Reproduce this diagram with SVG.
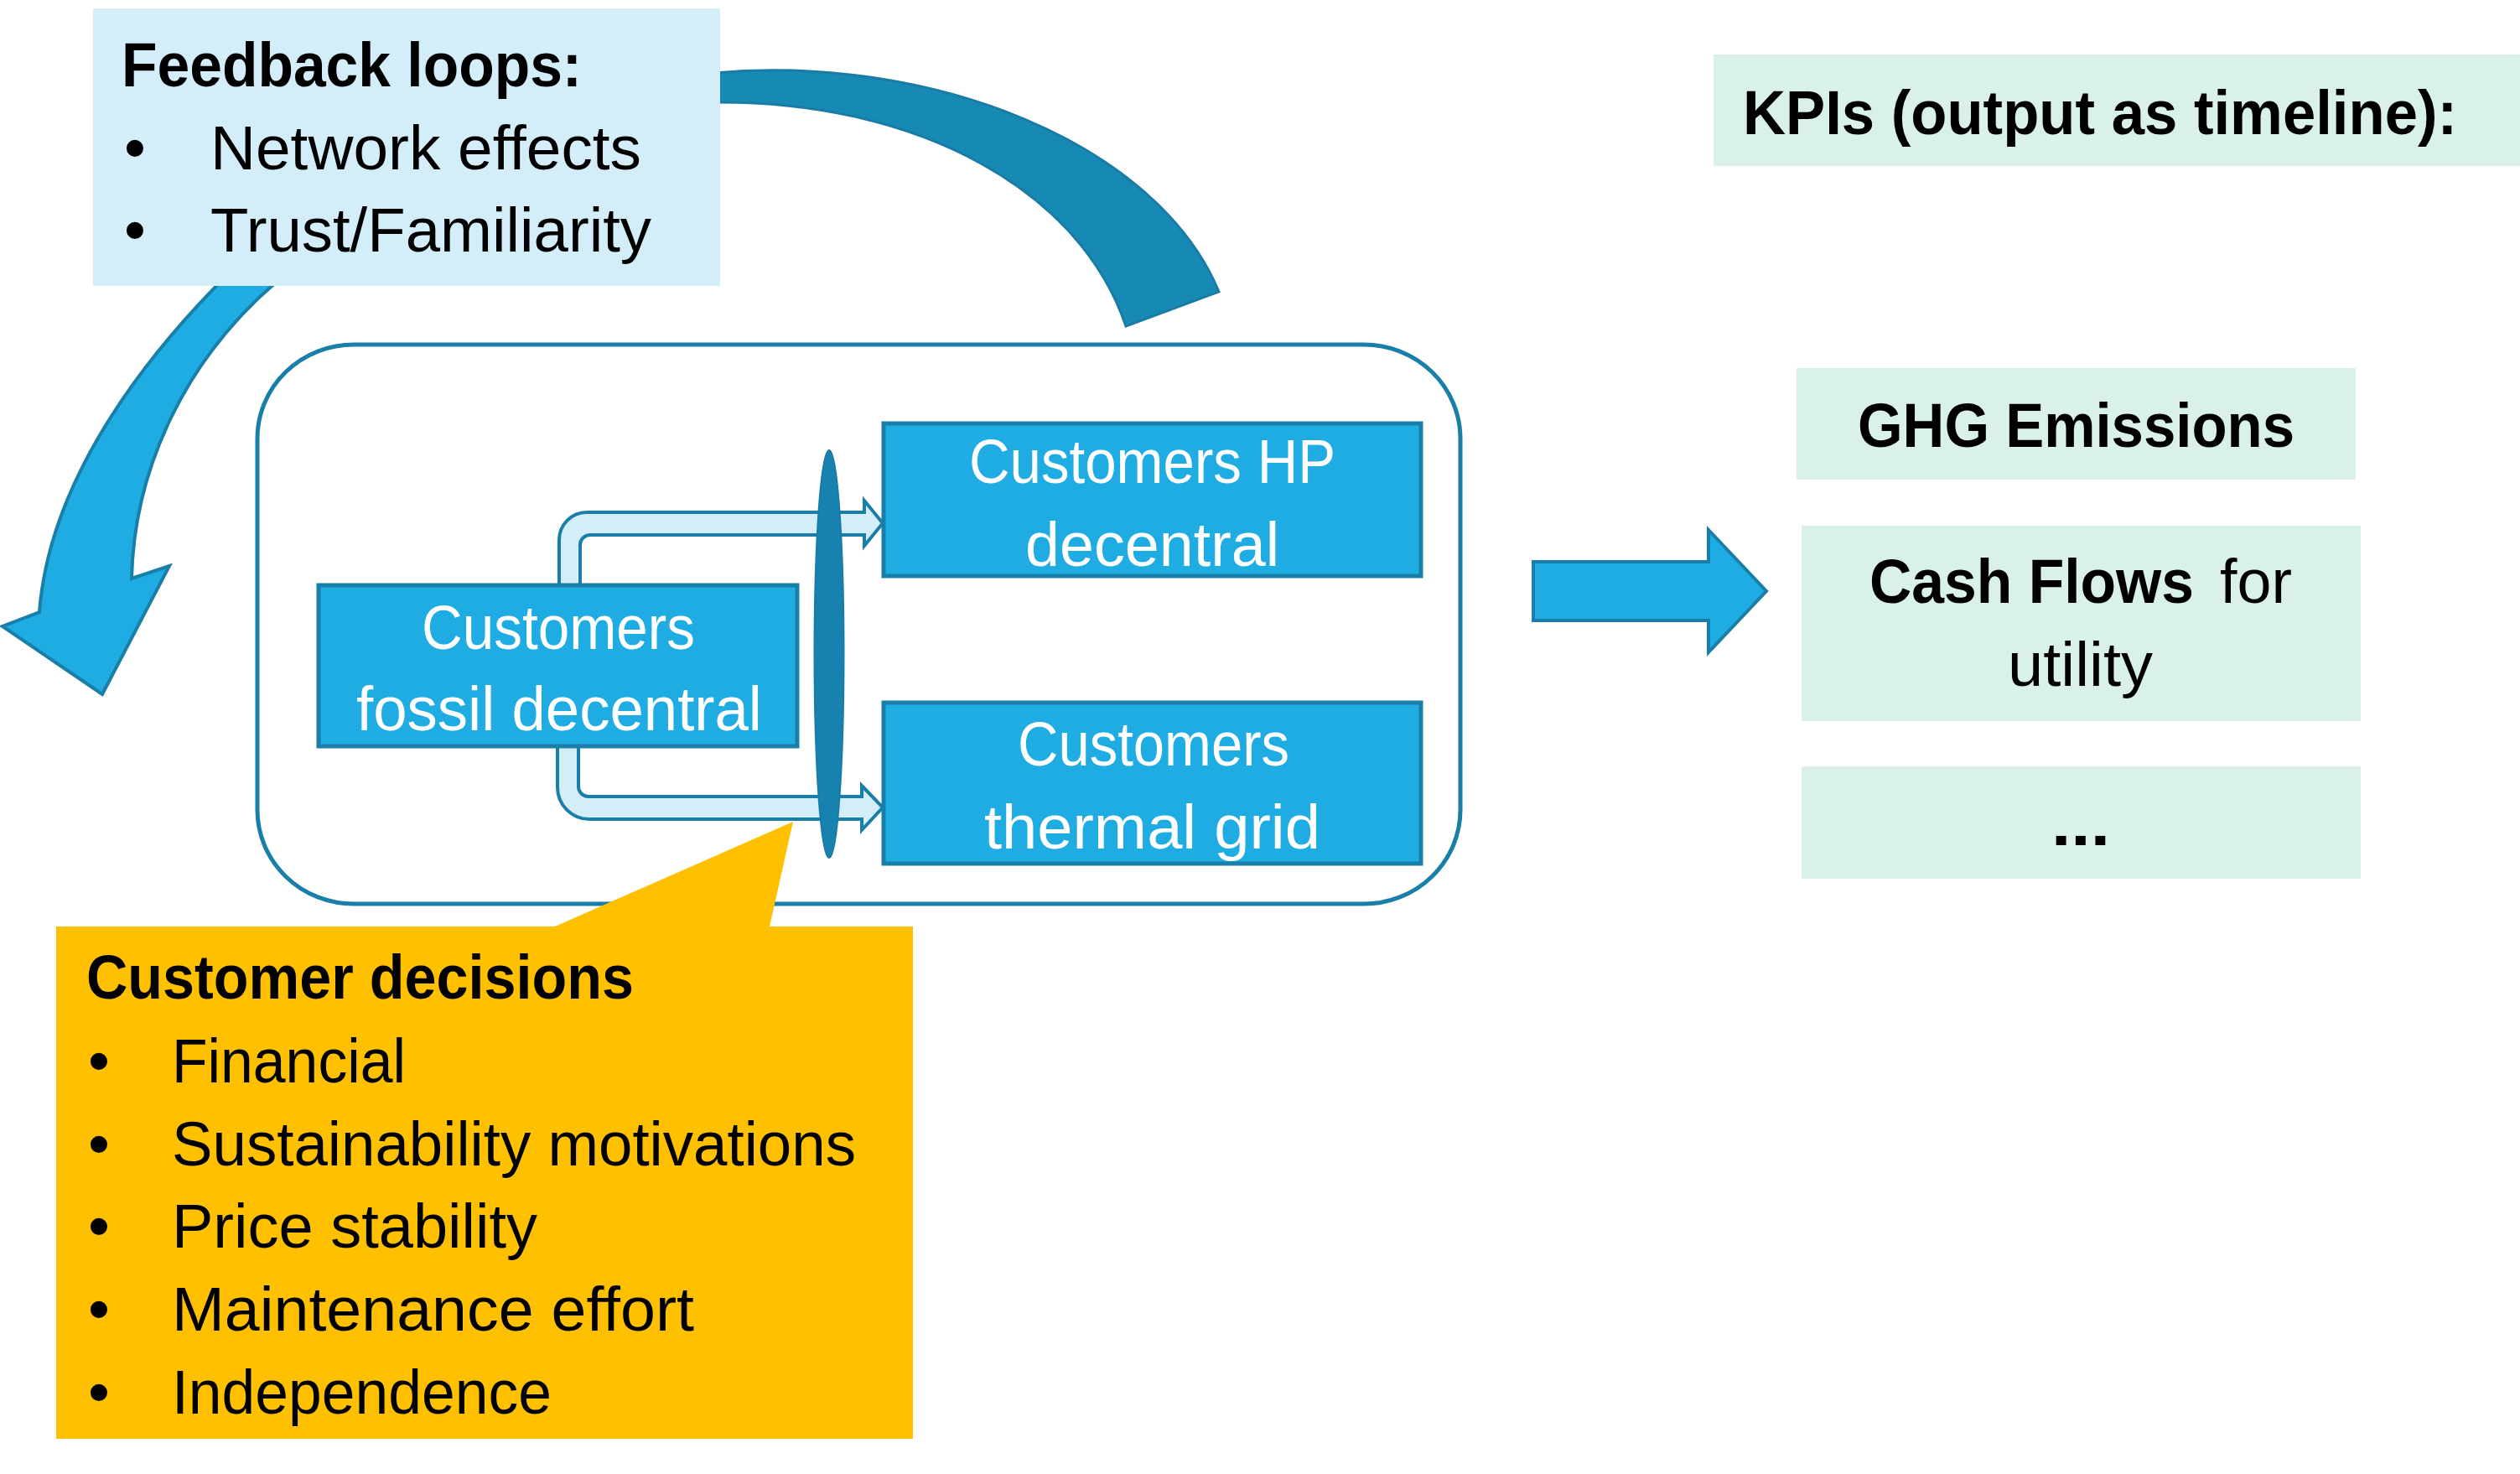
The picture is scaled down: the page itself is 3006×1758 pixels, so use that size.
<svg xmlns="http://www.w3.org/2000/svg" width="3006" height="1758" viewBox="0 0 3006 1758">
<style>
text{font-family:"Liberation Sans",Arial,sans-serif;font-size:74px;fill:#000}
.b{font-weight:bold}
.w{fill:#fff}
.node{fill:#1EACE2;stroke:#1A7FA8;stroke-width:5}
.light{fill:#D4EEF9}
.mint{fill:#DAF0EA}
.bent{fill:#D4EEF9;stroke:#1A7FA8;stroke-width:4;stroke-linejoin:miter}
</style>
<rect width="3006" height="1758" fill="#fff"/>
<g id="connectors">
  <path id="loop-left" d="M263,336 C190,410 60,560 47,730 L3,747 L122,828 L202,675 L157,690 C160,560 220,430 330,336 Z" fill="#1EACE2" stroke="#1A7FA8" stroke-width="4" stroke-linejoin="miter"/>
  <path id="loop-top" d="M852,87 C1110,64 1380,170 1454,348 L1343,389 C1290,230 1100,120 852,122 Z" fill="#1789B5" stroke="#1A7CA5" stroke-width="3"/>
  <path id="to-hp" class="bent" d="M667,700 L667,644 A33,33 0 0 1 700,611 L1031,611 L1031,597 L1053,624 L1031,651 L1031,638 L704,638 A12,12 0 0 0 692,650 L692,700 Z"/>
  <path id="to-grid" class="bent" d="M665,888 L665,939 A38,38 0 0 0 703,977 L1028,977 L1028,990 L1053,963 L1028,937 L1028,950 L702,950 A12,12 0 0 1 690,938 L690,888 Z"/>
  <path id="to-kpi" d="M1829,670 L2038,670 L2038,632 L2107,705 L2038,778 L2038,740 L1829,740 Z" fill="#1EACE2" stroke="#1A7FA8" stroke-width="4"/>
</g>
<g id="feedback">
  <rect x="111" y="10" width="748" height="331" class="light"/>
  <text class="b" x="145" y="103" textLength="549" lengthAdjust="spacingAndGlyphs">Feedback loops:</text>
  <text x="148" y="202">•</text>
  <text x="251" y="202" textLength="514" lengthAdjust="spacingAndGlyphs">Network effects</text>
  <text x="148" y="300">•</text>
  <text x="251" y="300" textLength="526" lengthAdjust="spacingAndGlyphs">Trust/Familiarity</text>
</g>
<g id="system">
  <rect x="307" y="411" width="1435" height="667" rx="115" ry="112" fill="none" stroke="#1A7FA8" stroke-width="5"/>
</g>
<g id="fossil">
  <rect x="380" y="698" width="571" height="192" class="node"/>
  <text class="w" x="503" y="774" textLength="326" lengthAdjust="spacingAndGlyphs">Customers</text>
  <text class="w" x="425" y="871" textLength="484" lengthAdjust="spacingAndGlyphs">fossil decentral</text>
</g>
<g id="hp">
  <rect x="1054" y="505" width="641" height="182" class="node"/>
  <text class="w" x="1156" y="576" textLength="437" lengthAdjust="spacingAndGlyphs">Customers HP</text>
  <text class="w" x="1223" y="675" textLength="303" lengthAdjust="spacingAndGlyphs">decentral</text>
</g>
<g id="grid">
  <rect x="1054" y="838" width="641" height="192" class="node"/>
  <text class="w" x="1214" y="913" textLength="324" lengthAdjust="spacingAndGlyphs">Customers</text>
  <text class="w" x="1174" y="1012" textLength="401" lengthAdjust="spacingAndGlyphs">thermal grid</text>
</g>
<g id="decision-gate">
  <ellipse cx="989" cy="780" rx="17.5" ry="243" fill="#1782AF" stroke="#1A7CA5" stroke-width="2"/>
</g>
<g id="decisions">
  <path d="M67,1105 L662,1105 L946,980 L918,1105 L1089,1105 L1089,1716 L67,1716 Z" fill="#FFC000"/>
  <text class="b" x="103" y="1191" textLength="653" lengthAdjust="spacingAndGlyphs">Customer decisions</text>
  <text x="105" y="1291">•</text>
  <text x="205" y="1291" textLength="279" lengthAdjust="spacingAndGlyphs">Financial</text>
  <text x="105" y="1390">•</text>
  <text x="205" y="1390" textLength="816" lengthAdjust="spacingAndGlyphs">Sustainability motivations</text>
  <text x="105" y="1488">•</text>
  <text x="205" y="1488" textLength="436" lengthAdjust="spacingAndGlyphs">Price stability</text>
  <text x="105" y="1587">•</text>
  <text x="205" y="1587" textLength="623" lengthAdjust="spacingAndGlyphs">Maintenance effort</text>
  <text x="105" y="1686">•</text>
  <text x="205" y="1686" textLength="453" lengthAdjust="spacingAndGlyphs">Independence</text>
</g>
<g id="kpis">
  <rect x="2044" y="65" width="962" height="133" class="mint"/>
  <text class="b" x="2079" y="160" textLength="852" lengthAdjust="spacingAndGlyphs">KPIs (output as timeline):</text>
</g>
<g id="ghg">
  <rect x="2143" y="439" width="667" height="133" class="mint"/>
  <text class="b" x="2216" y="533" textLength="521" lengthAdjust="spacingAndGlyphs">GHG Emissions</text>
</g>
<g id="cashflows">
  <rect x="2149" y="627" width="667" height="233" class="mint"/>
  <text class="b" x="2230" y="719" textLength="387" lengthAdjust="spacingAndGlyphs">Cash Flows</text>
  <text x="2648" y="719" textLength="86" lengthAdjust="spacingAndGlyphs">for</text>
  <text x="2395" y="818" textLength="173" lengthAdjust="spacingAndGlyphs">utility</text>
</g>
<g id="more">
  <rect x="2149" y="914" width="667" height="134" class="mint"/>
  <text class="b" x="2447" y="1008" textLength="70" lengthAdjust="spacingAndGlyphs">...</text>
</g>
</svg>
